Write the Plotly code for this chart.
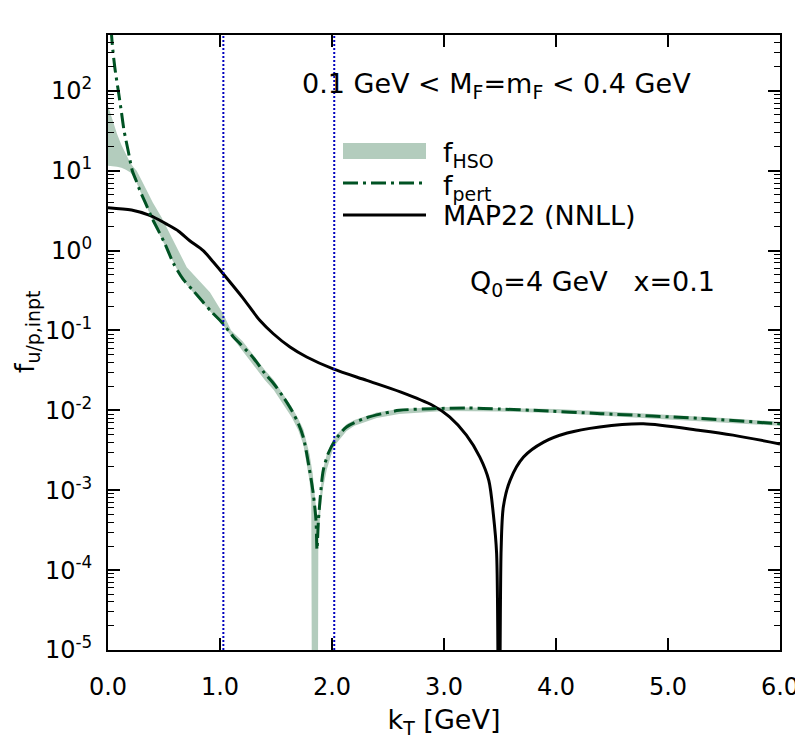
import plotly.graph_objects as go

# ---------------- data ----------------
# f_pert (dash-dot)
pert_kt = [0.02, 0.033, 0.06, 0.092, 0.12, 0.143, 0.18, 0.217, 0.25, 0.286, 0.34, 0.39,
           0.45, 0.509, 0.583, 0.67, 0.76, 0.837, 0.926, 1.015, 1.12, 1.18, 1.30, 1.40,
           1.48, 1.565, 1.64, 1.70, 1.744, 1.80, 1.833, 1.857, 1.866, 1.878, 1.893, 1.922,
           1.967, 2.027, 2.13, 2.30, 2.45, 2.6, 2.9, 3.2, 3.5, 3.8, 4.4, 5.3, 6.0]
pert_f = [1300, 470, 200, 100, 54, 32, 17.8, 10, 7.6, 5.6, 3.8, 2.6,
          1.78, 1.21, 0.70, 0.44, 0.316, 0.237, 0.17, 0.127, 0.083, 0.068, 0.045, 0.029,
          0.0215, 0.0147, 0.010, 0.0068, 0.0046, 0.00178, 0.0009, 0.00042, 0.00018, 0.00040, 0.00075, 0.00178,
          0.0029, 0.0042, 0.0062, 0.0080, 0.0091, 0.0100, 0.0105, 0.0107, 0.0104, 0.0100, 0.0091, 0.0079, 0.0068]

# f_HSO band (lower / upper envelope)
hso_kt = [0.0, 0.04, 0.08, 0.12, 0.16, 0.2, 0.23, 0.256, 0.3, 0.346, 0.4, 0.479, 0.54, 0.598,
          0.65, 0.703, 0.8, 0.91, 0.97, 1.03, 1.1, 1.2, 1.3, 1.4, 1.48, 1.565, 1.64, 1.7, 1.744,
          1.8, 1.815, 1.828, 1.845, 1.857, 1.868, 1.878, 1.9, 1.922, 1.953, 2.012, 2.042, 2.13,
          2.2, 2.4, 2.6, 3.0, 3.5, 4.0, 4.5, 5.0, 5.5, 6.0]
hso_lo = [11.5, 11.4, 11.2, 10.9, 10.3, 9.5, 8.4, 7.0, 5.0, 3.6, 2.35, 1.4, 0.95, 0.63,
          0.47, 0.37, 0.26, 0.17, 0.14, 0.115, 0.085, 0.055, 0.037, 0.024, 0.018, 0.012, 0.0082, 0.0056, 0.0037,
          0.0013, 0.0007, 1e-9, 1e-9, 1e-9, 1e-9, 0.00025, 0.0006, 0.0011, 0.0018, 0.0034, 0.0039, 0.0055,
          0.0064, 0.0080, 0.0090, 0.0098, 0.0097, 0.0093, 0.0085, 0.0078, 0.0071, 0.0064]
hso_hi = [65, 42, 29, 21, 16, 12.5, 11, 10, 7.6, 5.6, 4.0, 2.6, 1.75, 1.21,
          0.85, 0.62, 0.44, 0.30, 0.22, 0.16, 0.10, 0.074, 0.049, 0.032, 0.024, 0.016, 0.011, 0.0078, 0.0058,
          0.0028, 0.0021, 0.0016, 0.0009, 0.0006, 0.00045, 0.0005, 0.0011, 0.0019, 0.0028, 0.0044, 0.0050, 0.0067,
          0.0076, 0.0094, 0.0104, 0.0110, 0.0108, 0.0104, 0.0096, 0.0088, 0.0080, 0.0072]

# MAP22 (NNLL) -- absolute value
map_kt = [0.0, 0.21, 0.36, 0.45, 0.53, 0.63, 0.73, 0.85, 0.94, 1.03, 1.2, 1.357, 1.476, 1.625,
          1.774, 2.01, 2.31, 2.61, 2.90, 3.05, 3.20, 3.32, 3.40, 3.44, 3.47, 3.49, 3.51, 3.53,
          3.59, 3.71, 3.89, 4.10, 4.39, 4.78, 5.29, 5.58, 6.0]
map_f = [3.45, 3.22, 2.8, 2.45, 2.12, 1.75, 1.33, 1.0, 0.72, 0.51, 0.26, 0.133, 0.091, 0.062,
         0.0465, 0.033, 0.0237, 0.017, 0.0115, 0.0083, 0.0049, 0.0026, 0.00133, 0.00051, 0.00016, 1e-8, 0.00018, 0.00062,
         0.00133, 0.0026, 0.0040, 0.0052, 0.0062, 0.0068, 0.0056, 0.0049, 0.0038]

vline_kt = [1.03, 2.02]

x_ticks = [0, 1, 2, 3, 4, 5, 6]
x_ticktext = ["0.0", "1.0", "2.0", "3.0", "4.0", "5.0", "6.0"]
y_ticks = [1e-5, 1e-4, 1e-3, 1e-2, 1e-1, 1e0, 1e1, 1e2]
y_ticktext = ["10<sup>-5</sup>", "10<sup>-4</sup>", "10<sup>-3</sup>", "10<sup>-2</sup>",
              "10<sup>-1</sup>", "10<sup>0</sup>", "10<sup>1</sup>", "10<sup>2</sup>"]

# ---------------- styling ----------------
FONT = "DejaVu Sans"
BAND = "rgb(179,204,189)"
GREEN = "rgb(0,82,35)"
BLUE = "rgb(0,0,190)"
PERT_DASH = "15px,5px,3px,5px"

# the page has an 8px body margin, so the figure is shifted; sizes chosen to match the reference frame
W, H = 795, 731
ML, MR, MT, MB = 100, 23, 27, 89
PW = W - ML - MR
PH = H - MT - MB

fig = go.Figure()
fig.add_trace(go.Scatter(x=hso_kt, y=hso_lo, mode="lines", line=dict(width=0, color=BAND),
                         showlegend=False, hoverinfo="skip"))
fig.add_trace(go.Scatter(x=hso_kt, y=hso_hi, mode="lines", line=dict(width=0, color=BAND),
                         fill="tonexty", fillcolor=BAND, name="f<sub>HSO</sub>", showlegend=False))
fig.add_trace(go.Scatter(x=map_kt, y=map_f, mode="lines",
                         line=dict(color="black", width=3, shape="spline", smoothing=0.8),
                         name="MAP22 (NNLL)", showlegend=False))
fig.add_trace(go.Scatter(x=pert_kt, y=pert_f, mode="lines",
                         line=dict(color=GREEN, width=3, dash=PERT_DASH, shape="spline", smoothing=0.8),
                         name="f<sub>pert</sub>", showlegend=False))

for xv in vline_kt:
    fig.add_shape(type="line", xref="x", yref="paper", x0=xv, x1=xv, y0=0, y1=1,
                  line=dict(color=BLUE, width=2, dash="2px,2px"), layer="above")

minor_vals = [m * 10 ** e for e in range(-5, 3) for m in range(2, 10)]

fig.update_xaxes(range=[0, 6], tickvals=x_ticks, ticktext=x_ticktext, automargin=False,
                 ticks="inside", ticklen=12, tickwidth=1.5, tickcolor="black",
                 showline=True, linecolor="black", linewidth=2, mirror="allticks",
                 showgrid=False, zeroline=False, ticklabelstandoff=14, ticklabeloverflow="allow",
                 tickfont=dict(family=FONT, size=24, color="black"),
                 title=dict(text="k<sub>T</sub> [GeV]", font=dict(family=FONT, size=27, color="black"),
                            standoff=12))
fig.update_yaxes(type="log", range=[-5, 2.699], tickvals=y_ticks, ticktext=y_ticktext, automargin=False,
                 ticks="inside", ticklen=12, tickwidth=1.5, tickcolor="black",
                 minor=dict(tickvals=minor_vals, ticks="inside", ticklen=6, tickwidth=1.2,
                            tickcolor="black", showgrid=False),
                 showline=True, linecolor="black", linewidth=2, mirror="allticks",
                 showgrid=False, zeroline=False, ticklabelstandoff=9,
                 tickfont=dict(family=FONT, size=24, color="black"))

# positions given in page pixels of the reference, converted to paper coords
def px2paper_x(px):
    return (px - 108) / PW

def px2paper_y(py):
    return 1 - (py - 35) / PH

# y-axis title as rotated annotation
fig.add_annotation(text="f<sub>u/p,inpt</sub>", xref="paper", yref="paper",
                   x=px2paper_x(26), y=px2paper_y(332), xanchor="center", yanchor="middle",
                   textangle=-90, showarrow=False, font=dict(family=FONT, size=27, color="black"))

# manual legend
fig.add_shape(type="rect", xref="paper", yref="paper",
              x0=px2paper_x(343), x1=px2paper_x(426), y0=px2paper_y(159), y1=px2paper_y(143),
              fillcolor=BAND, line=dict(width=0))
fig.add_shape(type="line", xref="paper", yref="paper",
              x0=px2paper_x(343), x1=px2paper_x(426), y0=px2paper_y(183), y1=px2paper_y(183),
              line=dict(color=GREEN, width=3, dash=PERT_DASH))
fig.add_shape(type="line", xref="paper", yref="paper",
              x0=px2paper_x(343), x1=px2paper_x(426), y0=px2paper_y(215), y1=px2paper_y(215),
              line=dict(color="black", width=3))

ann_font = dict(family=FONT, size=27, color="black")
legend_items = [("f<sub>HSO</sub>", 155), ("f<sub>pert</sub>", 187), ("MAP22 (NNLL)", 215)]
for txt, py in legend_items:
    fig.add_annotation(text=txt, xref="paper", yref="paper", x=px2paper_x(441), y=px2paper_y(py),
                       xanchor="left", yanchor="middle", showarrow=False, font=ann_font)

fig.add_annotation(text="0.1 GeV &lt; M<sub>F</sub>=m<sub>F</sub> &lt; 0.4 GeV",
                   xref="paper", yref="paper", x=px2paper_x(300), y=px2paper_y(86),
                   xanchor="left", yanchor="middle", showarrow=False, font=ann_font)
fig.add_annotation(text="Q<sub>0</sub>=4 GeV   x=0.1",
                   xref="paper", yref="paper", x=px2paper_x(468), y=px2paper_y(283),
                   xanchor="left", yanchor="middle", showarrow=False, font=ann_font)

fig.update_layout(width=W, height=H, margin=dict(l=ML, r=MR, t=MT, b=MB),
                  paper_bgcolor="white", plot_bgcolor="white", showlegend=False,
                  font=dict(family=FONT, color="black"))

fig.write_html("out.html")
